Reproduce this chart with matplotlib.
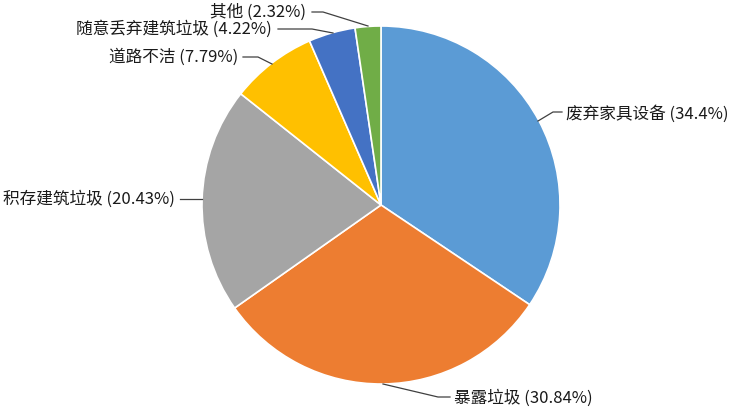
import matplotlib.pyplot as plt

plt.rcParams['font.family'] = ['Noto Sans CJK SC', 'DejaVu Sans']

# data
categories = ['废弃家具设备', '暴露垃圾', '积存建筑垃圾', '道路不洁', '随意丢弃建筑垃圾', '其他']
values = [34.4, 30.84, 20.43, 7.79, 4.22, 2.32]
colors = ['#5B9BD5', '#ED7D31', '#A5A5A5', '#FFC000', '#4472C4', '#70AD47']

W, H = 731, 410
fig = plt.figure(figsize=(W / 100, H / 100), dpi=100)
ax = fig.add_axes([0, 0, 1, 1])


def iy(y):
    # image pixel row -> data y
    return H - y


cx, cy, r = 381, 206, 179
ax.pie(values, colors=colors, startangle=90, counterclock=False,
       center=(cx, iy(cy)), radius=r, frame=True,
       wedgeprops=dict(edgecolor='white', linewidth=1.2))
ax.set_xlim(0, W)
ax.set_ylim(0, H)
ax.set_aspect('equal')
ax.axis('off')

# label layout: text anchor (x, y, ha) and leader polyline, in image pixels
layout = [
    ((566, 114, 'left'), [(538, 122), (553, 113), (562, 113)]),
    ((454, 398, 'left'), [(383, 385), (438, 398), (450, 398)]),
    ((175, 199, 'right'), [(202, 200), (180, 200)]),
    ((238, 57, 'right'), [(272, 65), (258, 58), (243, 58)]),
    ((272, 29, 'right'), [(333, 34), (312, 30), (278, 30)]),
    ((306, 12, 'right'), [(368, 27), (323, 13), (312, 13)]),
]

for name, val, ((tx, ty, ha), pts) in zip(categories, values, layout):
    ax.plot([p[0] for p in pts], [iy(p[1]) for p in pts], color='#404040', lw=0.9)
    ax.text(tx, iy(ty), f'{name} ({val:g}%)', ha=ha, va='center',
            fontsize=12, color='#1a1a1a')

fig.savefig('out.png', dpi=100)
